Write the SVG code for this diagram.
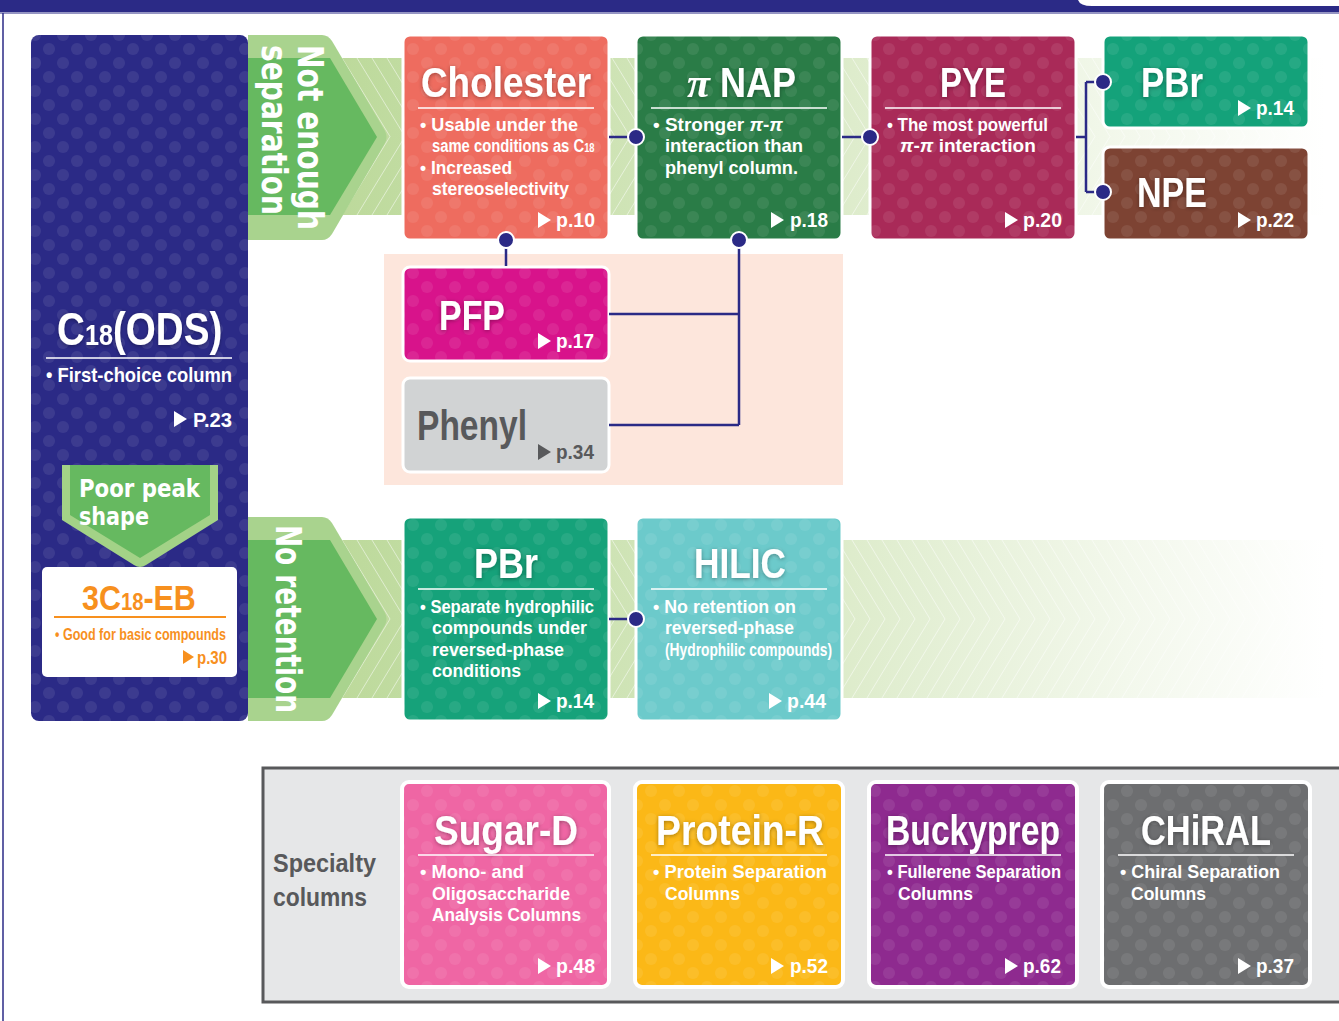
<svg xmlns="http://www.w3.org/2000/svg" width="1339" height="1021" viewBox="0 0 1339 1021">
<style>
.t{font-family:"Liberation Sans",Arial,sans-serif;font-weight:bold;fill:#fff}
.ti{font-size:42px;filter:url(#ts)}
.b{font-size:19px}
.pg{font-size:20px}
.w{font-family:"DejaVu Sans",Verdana,sans-serif;font-weight:bold;fill:#fff}
.box{stroke:#fff;stroke-width:3}
.sbox{stroke:#fff;stroke-width:4}
.rule{stroke:#fff;stroke-width:1.5}
.tri{fill:#fff}
.con{fill:none;stroke:#2b2a86;stroke-width:2.5}
.dot{fill:#2b2a86;stroke:#fff;stroke-width:2}
</style>
<defs>
<filter id="ts" x="-20%" y="-30%" width="140%" height="160%"><feDropShadow dx="0" dy="1" stdDeviation="2" flood-color="#000" flood-opacity="0.35"/></filter>
<pattern id="dots" width="28" height="28" patternUnits="userSpaceOnUse"><circle cx="7" cy="7" r="6" fill="#fff" fill-opacity="0.08"/><circle cx="21" cy="21" r="6" fill="#fff" fill-opacity="0.08"/></pattern>
<linearGradient id="bandg" gradientUnits="userSpaceOnUse" x1="330" y1="0" x2="1325" y2="0"><stop offset="0" stop-color="#bcd99a"/><stop offset="0.5" stop-color="#dcebc9"/><stop offset="0.8" stop-color="#f3f8ec"/><stop offset="1" stop-color="#ffffff"/></linearGradient>
<pattern id="chev1" x="0" y="58" width="15" height="157" patternUnits="userSpaceOnUse"><path d="M-48,0 L0,78.5 L-48,157 M-33,0 L15,78.5 L-33,157 M-18,0 L30,78.5 L-18,157 M-3,0 L45,78.5 L-3,157 M12,0 L60,78.5 L12,157" fill="none" stroke="#fff" stroke-opacity="0.5" stroke-width="1"/></pattern>
<pattern id="chev2" x="0" y="540" width="15" height="158" patternUnits="userSpaceOnUse"><path d="M-48,0 L0,79 L-48,158 M-33,0 L15,79 L-33,158 M-18,0 L30,79 L-18,158 M-3,0 L45,79 L-3,158 M12,0 L60,79 L12,158" fill="none" stroke="#fff" stroke-opacity="0.5" stroke-width="1"/></pattern>
</defs>
<rect width="1339" height="1021" fill="#fff"/>
<g id="frame">
<rect x="0" y="0" width="1339" height="12" fill="#2b2a86"/>
<path d="M1078,0 L1339,0 L1339,6 L1092,6 Q1080,6 1078,0 Z" fill="#fff"/>
<line x1="0" y1="13" x2="1339" y2="13" stroke="#2b2a86" stroke-width="1"/>
<line x1="3" y1="13" x2="3" y2="1021" stroke="#2b2a86" stroke-width="1.5"/>
</g>
<g id="bands">
<rect x="330" y="58" width="995" height="157" fill="url(#bandg)"/>
<rect x="330" y="58" width="995" height="157" fill="url(#chev1)"/>
<rect x="330" y="540" width="995" height="158" fill="url(#bandg)"/>
<rect x="330" y="540" width="995" height="158" fill="url(#chev2)"/>
</g>
<rect id="peach" x="384" y="254" width="459" height="231" fill="#fde6dc"/>
<g id="c18">
<rect x="31" y="35" width="217" height="686" rx="8" fill="#2b2a86"/>
<rect x="31" y="35" width="217" height="686" rx="8" fill="url(#dots)"/>
<text class="t" transform="translate(57,345) scale(0.84,1)" font-size="46" style="filter:url(#ts)">C<tspan font-size="30">18</tspan>(ODS)</text>
<line class="rule" x1="46" y1="358" x2="232" y2="358"/>
<text class="t" x="46" y="382" font-size="21" textLength="186" lengthAdjust="spacingAndGlyphs">• First-choice column</text>
<path class="tri" d="M174,411 L187,419 L174,427 Z"/>
<text class="t pg" x="193" y="427" textLength="39" lengthAdjust="spacingAndGlyphs">P.23</text>
</g>
<g id="eb">
<rect x="42" y="567" width="195" height="110" rx="5" fill="#fff"/>
<text class="t" transform="translate(82,610) scale(0.845,1)" font-size="36" style="fill:#f7901e">3C<tspan font-size="24">18</tspan>-EB</text>
<line x1="54" y1="617" x2="226" y2="617" stroke="#f7901e" stroke-width="2"/>
<text class="t" x="55" y="640" font-size="17" style="fill:#f7901e" textLength="171" lengthAdjust="spacingAndGlyphs">• Good for basic compounds</text>
<path d="M183,650 L194,657 L183,664 Z" fill="#f7901e"/>
<text class="t" x="197" y="664" font-size="18" style="fill:#f7901e" textLength="30" lengthAdjust="spacingAndGlyphs">p.30</text>
</g>
<g id="poor-peak">
<path d="M62,465 L218,465 L218,520 L146,565 Q140,569 134,565 L62,520 Z" fill="#a3d287"/>
<path d="M70,465 L210,465 L210,515 L140,558 L70,515 Z" fill="#66b960"/>
<text class="w" x="79" y="497" font-size="24" textLength="121" lengthAdjust="spacingAndGlyphs">Poor peak</text>
<text class="w" x="79" y="525" font-size="24" textLength="70" lengthAdjust="spacingAndGlyphs">shape</text>
</g>
<g id="not-enough">
<path d="M248,35 L322,35 Q328,35 332,41 L385,131 Q388,137 385,143 L332,234 Q328,240 322,240 L248,240 Z" fill="#a9d38e"/>
<path d="M248,58 L330,58 L377,137 L330,215 L248,215 Z" fill="#66b960"/>
<text class="w" transform="translate(298,45) rotate(90)" font-size="36" textLength="185" lengthAdjust="spacingAndGlyphs">Not enough</text>
<text class="w" transform="translate(262,45) rotate(90)" font-size="36" textLength="170" lengthAdjust="spacingAndGlyphs">separation</text>
</g>
<g id="no-retention">
<path d="M248,517 L322,517 Q328,517 332,523 L385,613 Q388,619 385,625 L332,715 Q328,721 322,721 L248,721 Z" fill="#a9d38e"/>
<path d="M248,540 L330,540 L377,619 L330,698 L248,698 Z" fill="#66b960"/>
<text class="w" transform="translate(276,525) rotate(90)" font-size="36" textLength="188" lengthAdjust="spacingAndGlyphs">No retention</text>
</g>
<g id="cholester">
<rect class="box" x="403" y="35" width="206" height="205" rx="7" fill="#ee6c5f"/>
<rect x="403" y="35" width="206" height="205" rx="7" fill="url(#dots)"/>
<text class="t ti" x="506" y="97" text-anchor="middle" textLength="170" lengthAdjust="spacingAndGlyphs">Cholester</text>
<line class="rule" x1="418" y1="108" x2="594" y2="108"/>
<text class="t b" x="420" y="131" textLength="158" lengthAdjust="spacingAndGlyphs">• Usable under the</text>
<text class="t b" transform="translate(432,152) scale(0.78,1)">same conditions as C<tspan font-size="12">18</tspan></text>
<text class="t b" x="420" y="174" textLength="92" lengthAdjust="spacingAndGlyphs">• Increased</text>
<text class="t b" x="432" y="195" textLength="137" lengthAdjust="spacingAndGlyphs">stereoselectivity</text>
<path class="tri" d="M538,212 L551,220 L538,228 Z"/>
<text class="t pg" x="556" y="227" textLength="39" lengthAdjust="spacingAndGlyphs">p.10</text>
</g>
<g id="pinap">
<rect class="box" x="636" y="35" width="206" height="205" rx="7" fill="#2a7c47"/>
<rect x="636" y="35" width="206" height="205" rx="7" fill="url(#dots)"/>
<text class="ti" x="687" y="97" style="font-family:'Liberation Serif',serif;font-style:italic;font-weight:bold;fill:#fff">π</text>
<text class="t ti" x="720" y="97" textLength="76" lengthAdjust="spacingAndGlyphs">NAP</text>
<line class="rule" x1="651" y1="108" x2="827" y2="108"/>
<text class="t b" x="653" y="131">• Stronger <tspan font-style="italic">π</tspan>-<tspan font-style="italic">π</tspan></text>
<text class="t b" x="665" y="152" textLength="138" lengthAdjust="spacingAndGlyphs">interaction than</text>
<text class="t b" x="665" y="174" textLength="133" lengthAdjust="spacingAndGlyphs">phenyl column.</text>
<path class="tri" d="M771,212 L784,220 L771,228 Z"/>
<text class="t pg" x="790" y="227" textLength="38" lengthAdjust="spacingAndGlyphs">p.18</text>
</g>
<g id="pye">
<rect class="box" x="870" y="35" width="206" height="205" rx="7" fill="#a92a58"/>
<rect x="870" y="35" width="206" height="205" rx="7" fill="url(#dots)"/>
<text class="t ti" x="973" y="97" text-anchor="middle" textLength="66" lengthAdjust="spacingAndGlyphs">PYE</text>
<line class="rule" x1="885" y1="108" x2="1061" y2="108"/>
<text class="t b" x="887" y="131" textLength="161" lengthAdjust="spacingAndGlyphs">• The most powerful</text>
<text class="t b" x="900" y="152"><tspan font-style="italic">π</tspan>-<tspan font-style="italic">π</tspan> interaction</text>
<path class="tri" d="M1005,212 L1018,220 L1005,228 Z"/>
<text class="t pg" x="1023" y="227" textLength="39" lengthAdjust="spacingAndGlyphs">p.20</text>
</g>
<g id="pbr-top">
<rect class="box" x="1103" y="35" width="206" height="93" rx="7" fill="#14a27a"/>
<rect x="1103" y="35" width="206" height="93" rx="7" fill="url(#dots)"/>
<text class="t ti" x="1141" y="97" textLength="62" lengthAdjust="spacingAndGlyphs">PBr</text>
<path class="tri" d="M1238,100 L1251,108 L1238,116 Z"/>
<text class="t pg" x="1256" y="115" textLength="38" lengthAdjust="spacingAndGlyphs">p.14</text>
</g>
<g id="npe">
<rect class="box" x="1103" y="147" width="206" height="93" rx="7" fill="#7d4333"/>
<rect x="1103" y="147" width="206" height="93" rx="7" fill="url(#dots)"/>
<text class="t ti" x="1137" y="207" textLength="70" lengthAdjust="spacingAndGlyphs">NPE</text>
<path class="tri" d="M1238,212 L1251,220 L1238,228 Z"/>
<text class="t pg" x="1256" y="227" textLength="38" lengthAdjust="spacingAndGlyphs">p.22</text>
</g>
<g id="pfp">
<rect class="box" x="403" y="267" width="206" height="94" rx="7" fill="#d8138b"/>
<rect x="403" y="267" width="206" height="94" rx="7" fill="url(#dots)"/>
<text class="t ti" x="439" y="330" textLength="66" lengthAdjust="spacingAndGlyphs">PFP</text>
<path class="tri" d="M538,333 L551,341 L538,349 Z"/>
<text class="t pg" x="556" y="348" textLength="38" lengthAdjust="spacingAndGlyphs">p.17</text>
</g>
<g id="phenyl">
<rect class="box" x="403" y="378" width="206" height="94" rx="7" fill="#d1d3d4"/>
<text class="t" x="417" y="440" font-size="42" style="fill:#58595b" textLength="110" lengthAdjust="spacingAndGlyphs">Phenyl</text>
<path d="M538,444 L551,452 L538,460 Z" fill="#58595b"/>
<text class="t pg" x="556" y="459" style="fill:#58595b" textLength="38" lengthAdjust="spacingAndGlyphs">p.34</text>
</g>
<g id="pbr-row2">
<rect class="box" x="403" y="517" width="206" height="204" rx="7" fill="#16a27a"/>
<rect x="403" y="517" width="206" height="204" rx="7" fill="url(#dots)"/>
<text class="t ti" x="506" y="578" text-anchor="middle" textLength="64" lengthAdjust="spacingAndGlyphs">PBr</text>
<line class="rule" x1="418" y1="589" x2="594" y2="589"/>
<text class="t b" x="420" y="613" textLength="174" lengthAdjust="spacingAndGlyphs">• Separate hydrophilic</text>
<text class="t b" x="432" y="634" textLength="155" lengthAdjust="spacingAndGlyphs">compounds under</text>
<text class="t b" x="432" y="656" textLength="132" lengthAdjust="spacingAndGlyphs">reversed-phase</text>
<text class="t b" x="432" y="677" textLength="89" lengthAdjust="spacingAndGlyphs">conditions</text>
<path class="tri" d="M538,693 L551,701 L538,709 Z"/>
<text class="t pg" x="556" y="708" textLength="38" lengthAdjust="spacingAndGlyphs">p.14</text>
</g>
<g id="hilic">
<rect class="box" x="636" y="517" width="206" height="204" rx="7" fill="#6ccacb"/>
<rect x="636" y="517" width="206" height="204" rx="7" fill="url(#dots)"/>
<text class="t ti" x="740" y="578" text-anchor="middle" textLength="92" lengthAdjust="spacingAndGlyphs">HILIC</text>
<line class="rule" x1="651" y1="589" x2="827" y2="589"/>
<text class="t b" x="653" y="613" textLength="143" lengthAdjust="spacingAndGlyphs">• No retention on</text>
<text class="t b" x="665" y="634" textLength="129" lengthAdjust="spacingAndGlyphs">reversed-phase</text>
<text class="t b" x="665" y="656" textLength="167" lengthAdjust="spacingAndGlyphs">(Hydrophilic compounds)</text>
<path class="tri" d="M769,693 L782,701 L769,709 Z"/>
<text class="t pg" x="787" y="708" textLength="39" lengthAdjust="spacingAndGlyphs">p.44</text>
</g>
<g id="specialty">
<rect x="263" y="768" width="1090" height="234" fill="#e6e7e8" stroke="#58595b" stroke-width="3"/>
<text class="t" x="273" y="872" font-size="25" style="fill:#58595b" textLength="103" lengthAdjust="spacingAndGlyphs">Specialty</text>
<text class="t" x="273" y="906" font-size="25" style="fill:#58595b" textLength="94" lengthAdjust="spacingAndGlyphs">columns</text>
</g>
<g id="sugar-d">
<rect class="sbox" x="402" y="782" width="207" height="205" rx="7" fill="#ef66a4"/>
<rect x="402" y="782" width="207" height="205" rx="7" fill="url(#dots)"/>
<text class="t ti" x="506" y="845" text-anchor="middle" textLength="144" lengthAdjust="spacingAndGlyphs">Sugar-D</text>
<line class="rule" x1="418" y1="855" x2="594" y2="855"/>
<text class="t b" x="420" y="878" textLength="104" lengthAdjust="spacingAndGlyphs">• Mono- and</text>
<text class="t b" x="432" y="900" textLength="138" lengthAdjust="spacingAndGlyphs">Oligosaccharide</text>
<text class="t b" x="432" y="921" textLength="149" lengthAdjust="spacingAndGlyphs">Analysis Columns</text>
<path class="tri" d="M538,958 L551,966 L538,974 Z"/>
<text class="t pg" x="556" y="973" textLength="39" lengthAdjust="spacingAndGlyphs">p.48</text>
</g>
<g id="protein-r">
<rect class="sbox" x="635" y="782" width="208" height="205" rx="7" fill="#fbb817"/>
<rect x="635" y="782" width="208" height="205" rx="7" fill="url(#dots)"/>
<text class="t ti" x="740" y="845" text-anchor="middle" textLength="168" lengthAdjust="spacingAndGlyphs">Protein-R</text>
<line class="rule" x1="651" y1="855" x2="827" y2="855"/>
<text class="t b" x="653" y="878" textLength="174" lengthAdjust="spacingAndGlyphs">• Protein Separation</text>
<text class="t b" x="665" y="900" textLength="75" lengthAdjust="spacingAndGlyphs">Columns</text>
<path class="tri" d="M771,958 L784,966 L771,974 Z"/>
<text class="t pg" x="790" y="973" textLength="38" lengthAdjust="spacingAndGlyphs">p.52</text>
</g>
<g id="buckyprep">
<rect class="sbox" x="869" y="782" width="208" height="205" rx="7" fill="#8e2a8f"/>
<rect x="869" y="782" width="208" height="205" rx="7" fill="url(#dots)"/>
<text class="t ti" x="973" y="845" text-anchor="middle" textLength="174" lengthAdjust="spacingAndGlyphs">Buckyprep</text>
<line class="rule" x1="885" y1="855" x2="1061" y2="855"/>
<text class="t b" x="887" y="878" textLength="174" lengthAdjust="spacingAndGlyphs">• Fullerene Separation</text>
<text class="t b" x="898" y="900" textLength="75" lengthAdjust="spacingAndGlyphs">Columns</text>
<path class="tri" d="M1005,958 L1018,966 L1005,974 Z"/>
<text class="t pg" x="1023" y="973" textLength="38" lengthAdjust="spacingAndGlyphs">p.62</text>
</g>
<g id="chiral">
<rect class="sbox" x="1102" y="782" width="208" height="205" rx="7" fill="#6d6e70"/>
<rect x="1102" y="782" width="208" height="205" rx="7" fill="url(#dots)"/>
<text class="t ti" x="1206" y="845" text-anchor="middle" textLength="130" lengthAdjust="spacingAndGlyphs">CHiRAL</text>
<line class="rule" x1="1118" y1="855" x2="1294" y2="855"/>
<text class="t b" x="1120" y="878" textLength="160" lengthAdjust="spacingAndGlyphs">• Chiral Separation</text>
<text class="t b" x="1131" y="900" textLength="75" lengthAdjust="spacingAndGlyphs">Columns</text>
<path class="tri" d="M1238,958 L1251,966 L1238,974 Z"/>
<text class="t pg" x="1256" y="973" textLength="38" lengthAdjust="spacingAndGlyphs">p.37</text>
</g>
<g id="connectors">
<path class="con" d="M609,137 H636 M842,137 H870 M1076,137 H1086 M1086,82 V192 M1086,82 H1103 M1086,192 H1103 M506,240 V266 M739,240 V425 M609,314 H739 M609,425 H739 M609,619 H636"/>
<circle class="dot" cx="636" cy="137" r="8"/>
<circle class="dot" cx="870" cy="137" r="8"/>
<circle class="dot" cx="1103" cy="82" r="8"/>
<circle class="dot" cx="1103" cy="192" r="8"/>
<circle class="dot" cx="506" cy="240" r="8"/>
<circle class="dot" cx="739" cy="240" r="8"/>
<circle class="dot" cx="636" cy="619" r="8"/>
</g>
</svg>
